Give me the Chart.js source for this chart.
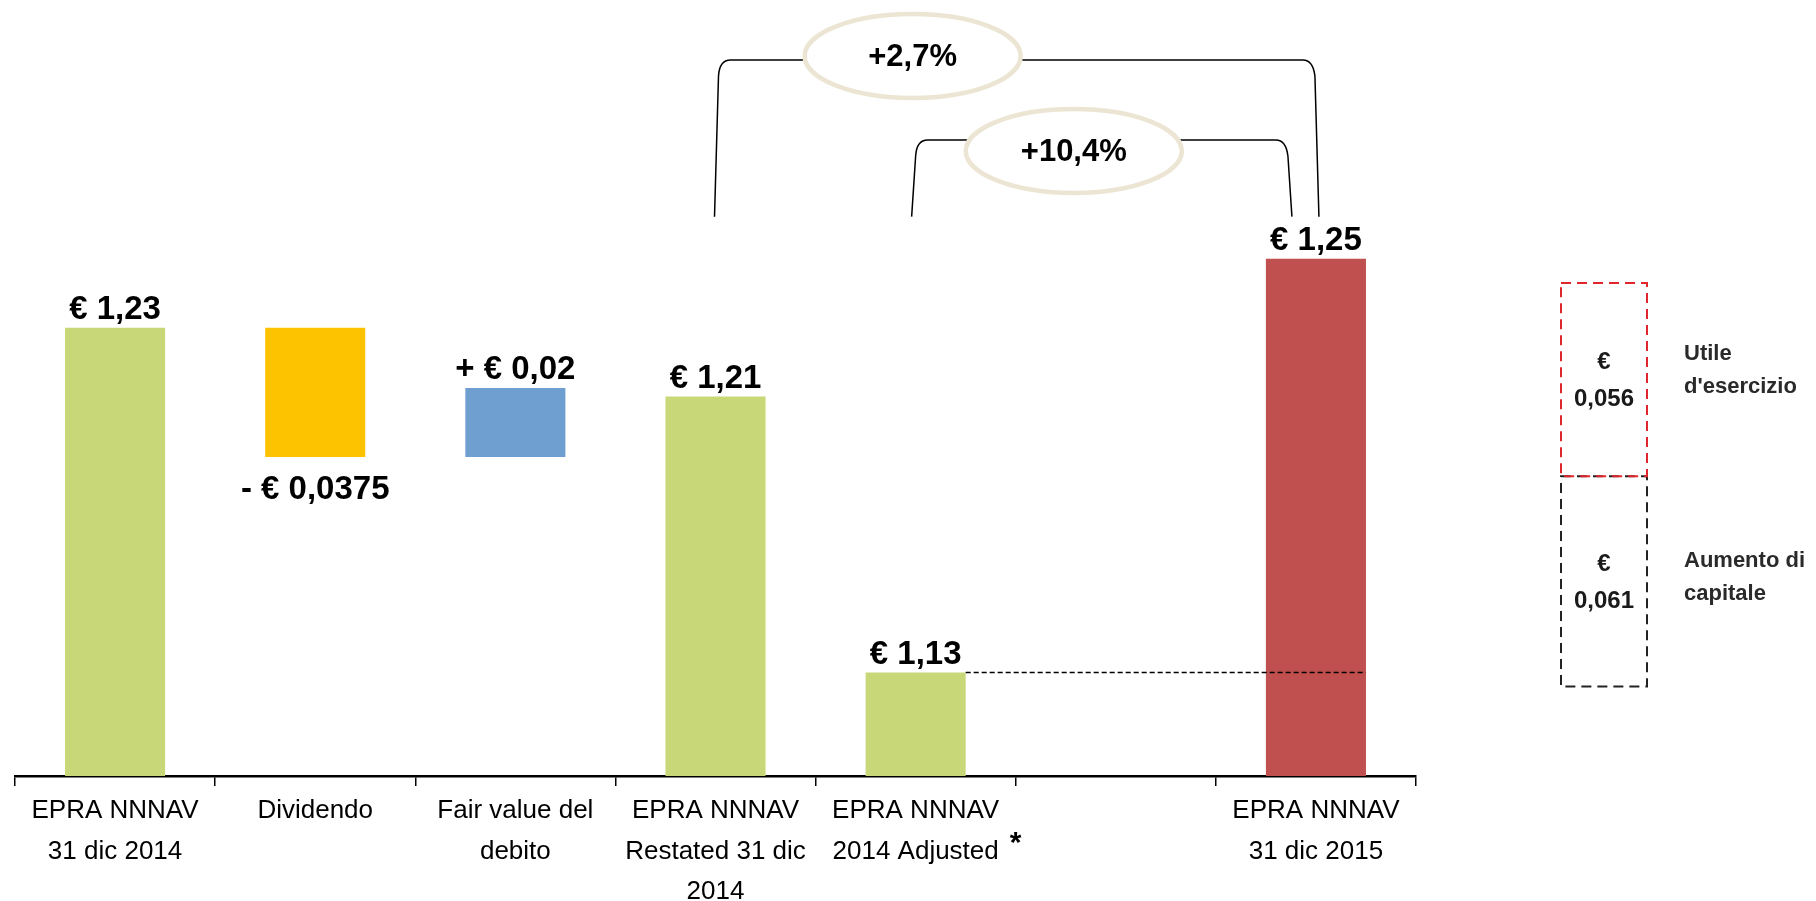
<!DOCTYPE html>
<html>
<head>
<meta charset="utf-8">
<script src="https://cdn.jsdelivr.net/npm/chart.js@4.4.0/dist/chart.umd.min.js"></script>
<style>
html, body { margin: 0; padding: 0; background: #fff; }
#wrap { width: 1816px; height: 901px; position: relative; }
</style>
</head>
<body>
<div id="wrap"><canvas id="nav_canvas"></canvas></div>
<script>
// categories of the bridge (x axis)
var categories = [
  ['EPRA NNNAV', '31 dic 2014'],
  'Dividendo',
  ['Fair value del', 'debito'],
  ['EPRA NNNAV', 'Restated 31 dic', '2014'],
  ['EPRA NNNAV', '2014 Adjusted'],
  '',
  ['EPRA NNNAV', '31 dic 2015']
];
// totals (full bars) and changes (floating bars)
var totals  = [1.23, null, null, 1.21, 1.13, null, 1.25];
var changes = [null, -0.0375, 0.02, null, null, null, null];
var valueLabels = ['€ 1,23', '- € 0,0375', '+ € 0,02', '€ 1,21', '€ 1,13', '', '€ 1,25'];
var barColors = ['#C8D878', '#FDC300', '#6E9FD0', '#C8D878', '#C8D878', '#FFFFFF', '#C0504F'];
// growth brackets
var growthLabels = ['+2,7%', '+10,4%'];
// split of the 2015 increase: aumento di capitale, utile d'esercizio
var bridgeParts  = [0.061, 0.056];
var bridgeTexts  = [['€', '0,061'], ['€', '0,056']];
var bridgeNames  = [['Aumento di', 'capitale'], ['Utile', "d'esercizio"]];
var bridgeColors = ['#222222', '#E0282C'];

var yMin = 1.10, yMax = 1.325;

function buildBars() {
  var out = [];
  var level = 0;
  for (var i = 0; i < categories.length; i++) {
    if (totals[i] != null) {
      out.push(totals[i]);
      level = totals[i];
    } else if (changes[i] != null) {
      var next = level + changes[i];
      out.push([Math.min(level, next), Math.max(level, next)]);
      level = next;
    } else {
      out.push(null);
    }
  }
  return out;
}

var FONT = "'Liberation Sans', Arial, sans-serif";
Chart.defaults.font.family = FONT;

var annotations = {
  id: 'annotations',
  afterDatasetsDraw: function(chart) {
    var ctx = chart.ctx;
    var xs = chart.scales.x, ys = chart.scales.y;
    var bars = chart.getDatasetMeta(0).data;
    ctx.save();

    // dashed level line from adjusted bar to the 2015 bar
    var adj = bars[4], last = bars[6];
    ctx.strokeStyle = '#000';
    ctx.lineWidth = 1.5;
    ctx.setLineDash([5, 3]);
    ctx.beginPath();
    ctx.moveTo(adj.x + adj.width / 2, adj.y);
    ctx.lineTo(last.x + last.width / 2, adj.y);
    ctx.stroke();
    ctx.setLineDash([]);

    // value labels
    ctx.fillStyle = '#000';
    ctx.font = 'bold 33px ' + FONT;
    ctx.textAlign = 'center';
    for (var i = 0; i < bars.length; i++) {
      if (!valueLabels[i]) continue;
      var b = bars[i];
      var top = Math.min(b.y, b.base), bottom = Math.max(b.y, b.base);
      if (changes[i] != null && changes[i] < 0) {
        ctx.textBaseline = 'middle';
        ctx.fillText(valueLabels[i], b.x, bottom + 33);
      } else {
        ctx.textBaseline = 'alphabetic';
        ctx.fillText(valueLabels[i], b.x, top - 9);
      }
    }

    // asterisk next to "Adjusted"
    ctx.font = 'bold 30px ' + FONT;
    ctx.textBaseline = 'middle';
    ctx.fillText('*', xs.getPixelForValue(4) + 100, 844);

    // brackets
    var yb = ys.getPixelForValue(totals[6]) - 42;
    function bracket(xl, xr, yt) {
      ctx.beginPath();
      ctx.moveTo(xl, yb);
      ctx.lineTo(xl + 4, yt + 16);
      ctx.quadraticCurveTo(xl + 5, yt, xl + 16, yt);
      ctx.lineTo(xr - 16, yt);
      ctx.quadraticCurveTo(xr - 6, yt, xr - 4, yt + 16);
      ctx.lineTo(xr, yb);
      ctx.stroke();
    }
    ctx.strokeStyle = '#000';
    ctx.lineWidth = 1.5;
    bracket(xs.getPixelForValue(3) - 1, xs.getPixelForValue(6) + 3, 60);
    bracket(xs.getPixelForValue(4) - 4, xs.getPixelForValue(6) - 24, 140);

    function bubble(cx, cy, text) {
      ctx.beginPath();
      ctx.ellipse(cx, cy, 108, 42, 0, 0, Math.PI * 2);
      ctx.fillStyle = '#fff';
      ctx.fill();
      ctx.strokeStyle = '#ECE5D3';
      ctx.lineWidth = 4.5;
      ctx.stroke();
      ctx.fillStyle = '#000';
      ctx.font = 'bold 31px ' + FONT;
      ctx.textAlign = 'center';
      ctx.textBaseline = 'middle';
      ctx.fillText(text, cx, cy + 1);
    }
    bubble(xs.getPixelForValue(4) - 3, 56, growthLabels[0]);
    bubble(xs.getPixelForValue(5) - 42, 151, growthLabels[1]);

    // split boxes for the increase (drawn beside the chart, slightly lower)
    var bx0 = 1561, bx1 = 1647, shift = 14;
    var level = totals[4];
    var nameDy = [[-20, 13], [-26, 7]];
    for (var k = 0; k < bridgeParts.length; k++) {
      var yLow = ys.getPixelForValue(level) + shift;
      var yHigh = ys.getPixelForValue(level + bridgeParts[k]) + shift;
      ctx.strokeStyle = bridgeColors[k];
      ctx.lineWidth = 2;
      ctx.setLineDash([10, 6]);
      ctx.strokeRect(bx0, yHigh, bx1 - bx0, yLow - yHigh);
      ctx.setLineDash([]);
      var mid = (yLow + yHigh) / 2;
      ctx.fillStyle = '#1a1a1a';
      ctx.font = 'bold 24px ' + FONT;
      ctx.textAlign = 'center';
      ctx.fillText(bridgeTexts[k][0], (bx0 + bx1) / 2, mid - 17);
      ctx.fillText(bridgeTexts[k][1], (bx0 + bx1) / 2, mid + 20);
      ctx.textAlign = 'left';
      ctx.font = 'bold 22px ' + FONT;
      ctx.fillStyle = '#2a2a2a';
      ctx.fillText(bridgeNames[k][0], 1684, mid + nameDy[k][0]);
      ctx.fillText(bridgeNames[k][1], 1684, mid + nameDy[k][1]);
      level += bridgeParts[k];
    }
    ctx.restore();
  }
};

var ctx = document.getElementById('nav_canvas');
var chart = new Chart(ctx, {
  type: 'bar',
  data: {
    labels: categories,
    datasets: [{
      data: buildBars(),
      backgroundColor: barColors,
      borderWidth: 0,
      barPercentage: 0.5,
      categoryPercentage: 1.0
    }]
  },
  options: {
    responsive: true,
    maintainAspectRatio: false,
    animation: false,
    layout: { padding: { left: 15, right: 400, top: 0, bottom: 0 } },
    plugins: { legend: { display: false }, tooltip: { enabled: false } },
    scales: {
      x: {
        grid: {
          display: true, offset: true, drawOnChartArea: false, drawTicks: true,
          tickLength: 10, color: '#000', lineWidth: 1.5
        },
        border: { display: true, color: '#000', width: 2.5 },
        ticks: {
          color: '#000', padding: 5, maxRotation: 0, autoSkip: false,
          font: { size: 26, lineHeight: 1.55 }
        },
        afterFit: function(scale) { scale.height = 125; }
      },
      y: { display: false, min: yMin, max: yMax }
    }
  },
  plugins: [annotations]
});
</script>
</body>
</html>
